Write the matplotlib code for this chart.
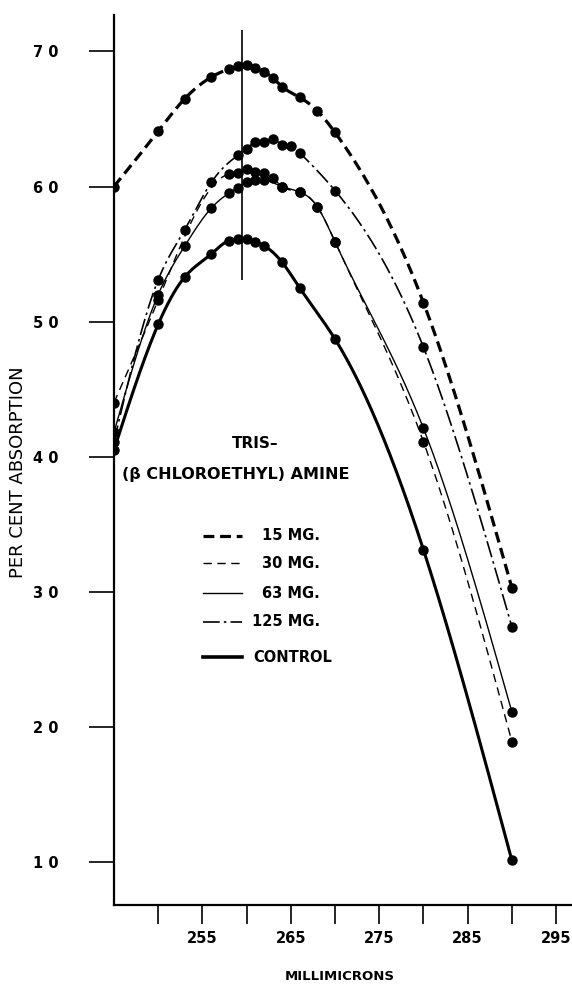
import matplotlib
matplotlib.use("Agg")
import numpy as np
import matplotlib.pyplot as plt
from matplotlib.lines import Line2D

# wavelength (millimicrons) and per cent absorption
x_15 = [245, 250, 253, 256, 258, 259, 260, 261, 262, 263, 264, 266, 268, 270, 280, 290]
y_15 = [60.0, 64.1, 66.5, 68.1, 68.7, 68.9, 69.0, 68.8, 68.5, 68.0, 67.4, 66.6, 65.6, 64.0, 51.4, 30.3]

x_30 = [245, 250, 258, 259, 260, 261, 262, 263, 264, 266, 268, 270, 280, 290]
y_30 = [44.0, 51.6, 60.9, 61.0, 61.3, 61.1, 61.0, 60.6, 60.0, 59.6, 58.5, 55.9, 41.1, 18.9]

x_63 = [245, 250, 253, 256, 258, 259, 260, 261, 262, 264, 266, 268, 270, 280, 290]
y_63 = [41.8, 52.0, 55.6, 58.4, 59.5, 59.9, 60.3, 60.5, 60.5, 60.0, 59.6, 58.5, 55.9, 42.1, 21.1]

x_125 = [245, 250, 253, 256, 259, 260, 261, 262, 263, 264, 265, 266, 270, 280, 290]
y_125 = [41.1, 53.1, 56.8, 60.3, 62.3, 62.8, 63.3, 63.3, 63.5, 63.1, 63.0, 62.5, 59.7, 48.1, 27.4]

x_ctl = [245, 250, 253, 256, 258, 259, 260, 261, 262, 264, 266, 270, 280, 290]
y_ctl = [40.5, 49.8, 53.3, 55.0, 56.0, 56.1, 56.1, 55.9, 55.6, 54.4, 52.5, 48.7, 33.1, 10.1]

y_ticks = [10, 20, 30, 40, 50, 60, 70]
y_labels = ["1 0", "2 0", "3 0", "4 0", "5 0", "6 0", "7 0"]
x_ticks = [250, 255, 260, 265, 270, 275, 280, 285, 290, 295]
x_labels = ["", "255", "", "265", "", "275", "", "285", "", "295"]

plt.rcParams['font.family'] = ['DejaVu Sans']
plt.rcParams['font.weight'] = 'bold'


def smooth(xs, ys, n=400):
    # natural cubic spline through the read points, so the curve looks hand drawn
    x = np.asarray(xs, float)
    y = np.asarray(ys, float)
    h = np.diff(x)
    m = len(x)
    A = np.zeros((m, m))
    b = np.zeros(m)
    A[0, 0] = A[-1, -1] = 1
    for i in range(1, m - 1):
        A[i, i - 1] = h[i - 1]
        A[i, i] = 2 * (h[i - 1] + h[i])
        A[i, i + 1] = h[i]
        b[i] = 3 * ((y[i + 1] - y[i]) / h[i] - (y[i] - y[i - 1]) / h[i - 1])
    c = np.linalg.solve(A, b)
    bb = (y[1:] - y[:-1]) / h - h * (2 * c[:-1] + c[1:]) / 3
    d = (c[1:] - c[:-1]) / (3 * h)
    xx = np.linspace(x[0], x[-1], n)
    k = np.clip(np.searchsorted(x, xx) - 1, 0, m - 2)
    t = xx - x[k]
    yy = y[k] + bb[k] * t + c[k] * t ** 2 + d[k] * t ** 3
    return xx, yy


W, H = 572, 984
fig = plt.figure(figsize=(W / 100, H / 100), dpi=100)
ax = fig.add_axes([114 / W, 1 - 905 / H, 1 - 114 / W, (905 - 15) / H])

st_15 = dict(lw=2.3, dashes=(3.4, 1.8))
st_30 = dict(lw=1.0, dashes=(6, 4))
st_63 = dict(lw=1.0, ls='-')
st_125 = dict(lw=1.2, dashes=(10, 2.5, 1.5, 2.5))
st_ctl = dict(lw=2.2, ls='-')

series = [(x_15, y_15, st_15), (x_30, y_30, st_30), (x_63, y_63, st_63),
          (x_125, y_125, st_125), (x_ctl, y_ctl, st_ctl)]
for xs, ys, st in series:
    sx, sy = smooth(xs, ys)
    ax.plot(sx, sy, color='black', **st)
    ax.plot(xs, ys, ls='none', marker='o', ms=6.5, mfc='black', mec='black')

# reference line at the maximum
ax.vlines(259.5, 53.1, 71.6, color='black', lw=1.2)

ax.set_xlim(245, 296.8)
ax.set_ylim(6.8, 72.7)
ax.spines['top'].set_visible(False)
ax.spines['right'].set_visible(False)
ax.spines['left'].set_linewidth(1.6)
ax.spines['bottom'].set_linewidth(1.6)

ax.set_yticks(y_ticks)
ax.set_yticklabels(y_labels, fontsize=10.5)
ax.tick_params(axis='y', direction='out', length=18, width=1.2, pad=22)
ax.set_xticks(x_ticks)
ax.set_xticklabels(x_labels, fontsize=10.5)
ax.tick_params(axis='x', direction='out', length=14, width=1.2, pad=5)

fig.text(340 / W, 1 - 977 / H, "MILLIMICRONS", ha='center', va='center',
         fontsize=9.5)
fig.text(18 / W, 1 - 472 / H, "PER CENT ABSORPTION", ha='center', va='center',
         rotation=90, fontsize=13, fontweight='normal')

# legend block drawn by hand, as on the plate
fig.text(255 / W, 1 - 444 / H, "TRIS\u2013", ha='center', va='center', fontsize=11)
fig.text(122 / W, 1 - 474 / H, "(\u03b2 CHLOROETHYL) AMINE", ha='left', va='center',
         fontsize=11.5)

legend_rows = [
    ("15 MG.", 536, st_15, 262),
    ("30 MG.", 563, st_30, 262),
    ("63 MG.", 593, st_63, 262),
    ("125 MG.", 622, st_125, 252),
    ("CONTROL", 657, dict(lw=2.6, ls='-'), 253),
]
for label, yp, st, xt in legend_rows:
    fig.add_artist(Line2D([203 / W, 242 / W], [1 - yp / H, 1 - yp / H],
                          transform=fig.transFigure, color='black', **st))
    fig.text(xt / W, 1 - yp / H, label, ha='left', va='center', fontsize=10.5)

fig.savefig("out.png", dpi=100)
